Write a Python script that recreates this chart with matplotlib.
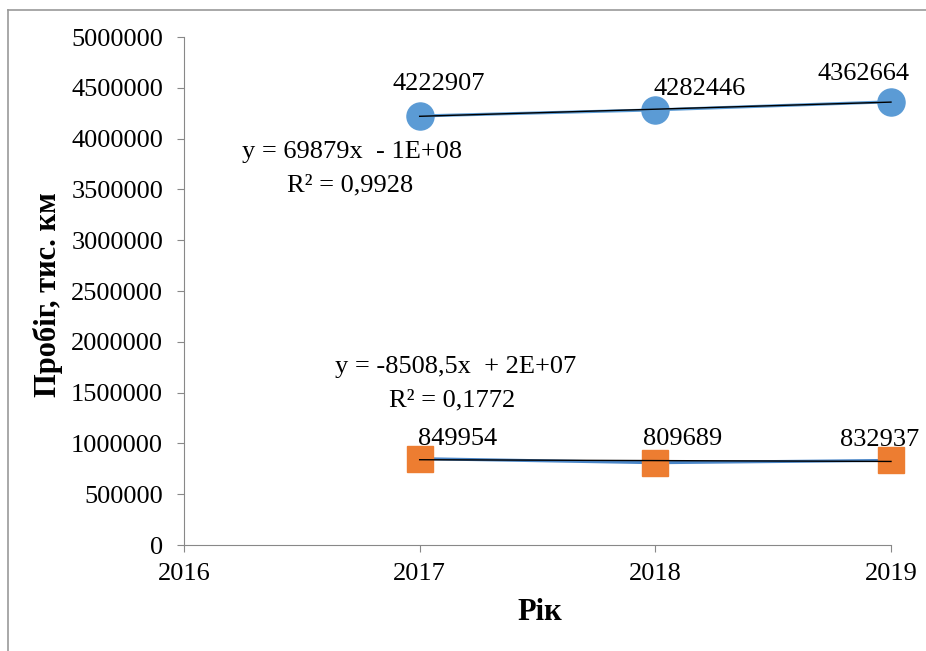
import matplotlib
matplotlib.use('Agg')
from matplotlib import pyplot
import numpy

pyplot.rcParams['font.family'] = ['Liberation Serif', 'DejaVu Serif']

# дані
years = [2017, 2018, 2019]
probig_1 = [4222907, 4282446, 4362664]
probig_2 = [849954, 809689, 832937]
rivn_1 = ['y = 69879x  - 1E+08', 'R² = 0,9928']
rivn_2 = ['y = -8508,5x  + 2E+07', 'R² = 0,1772']

fig = pyplot.figure(figsize=(9.26, 6.51), dpi=100)
ax = fig.add_axes([184 / 926, 1 - 545 / 651, (891 - 184) / 926, (545 - 37) / 651])

# рамка навколо діаграми
fig.add_artist(pyplot.Line2D([0.0086, 0.0086], [0, 1 - 10 / 651], color='#999999', lw=1.2, transform=fig.transFigure))
fig.add_artist(pyplot.Line2D([0.0086, 1], [1 - 10 / 651, 1 - 10 / 651], color='#999999', lw=1.2, transform=fig.transFigure))

# лінії та маркери
ax.plot(years, probig_1, color='#5b9bd5', lw=2.2, marker='o', ms=19.5, mfc='#5b9bd5', mec='#5b9bd5', zorder=3, clip_on=False)
ax.plot(years, probig_2, color='#4a86c8', lw=2.2, marker='s', ms=19, mfc='#ed7d31', mec='#ed7d31', zorder=3, clip_on=False)

# лінії тренду
x = numpy.array(years)
k1 = numpy.polyfit(x, probig_1, 1)
k2 = numpy.polyfit(x, probig_2, 1)
ax.plot(x, numpy.polyval(k1, x), color='black', lw=1, zorder=4, clip_on=False)
ax.plot(x, numpy.polyval(k2, x), color='black', lw=1, zorder=4, clip_on=False)

# підписи даних
offs_1 = [(14, 23), (32, 15), (-20, 20)]
offs_2 = [(27, 14), (20, 17), (-8, 15)]
for xi, yi, o in zip(years, probig_1, offs_1):
    ax.annotate(str(yi), (xi, yi), xytext=o, textcoords='offset points', ha='center', va='center', fontsize=19, zorder=5)
for xi, yi, o in zip(years, probig_2, offs_2):
    ax.annotate(str(yi), (xi, yi), xytext=o, textcoords='offset points', ha='center', va='center', fontsize=19, zorder=5)

# рівняння трендів
fig.text(352 / 926, 1 - 152 / 651, rivn_1[0], ha='center', va='center', fontsize=19)
fig.text(350 / 926, 1 - 185 / 651, rivn_1[1], ha='center', va='center', fontsize=19)
fig.text(456 / 926, 1 - 367 / 651, rivn_2[0], ha='center', va='center', fontsize=19)
fig.text(452 / 926, 1 - 400 / 651, rivn_2[1], ha='center', va='center', fontsize=19)

ax.set_xlim(2016, 2019)
ax.set_ylim(0, 5000000)
ax.set_xticks([2016, 2017, 2018, 2019])
ax.set_yticks(numpy.arange(0, 5000001, 500000))
ax.set_yticklabels([str(v) for v in range(0, 5000001, 500000)])

for s in ['top', 'right']:
    ax.spines[s].set_visible(False)
for s in ['left', 'bottom']:
    ax.spines[s].set_color('#888888')
ax.tick_params(axis='both', colors='#888888', labelcolor='black', labelsize=19, length=5, direction='out')
ax.tick_params(axis='y', pad=10)
ax.tick_params(axis='x', pad=8)

# підписи осей
fig.text(540 / 926, 1 - 612 / 651, 'Рік', ha='center', va='center', fontsize=22, fontweight='bold')
fig.text(48 / 926, 1 - 295 / 651, 'Пробіг, тис. км', ha='center', va='center', rotation=90, fontsize=22, fontweight='bold')

fig.savefig('out.png')
